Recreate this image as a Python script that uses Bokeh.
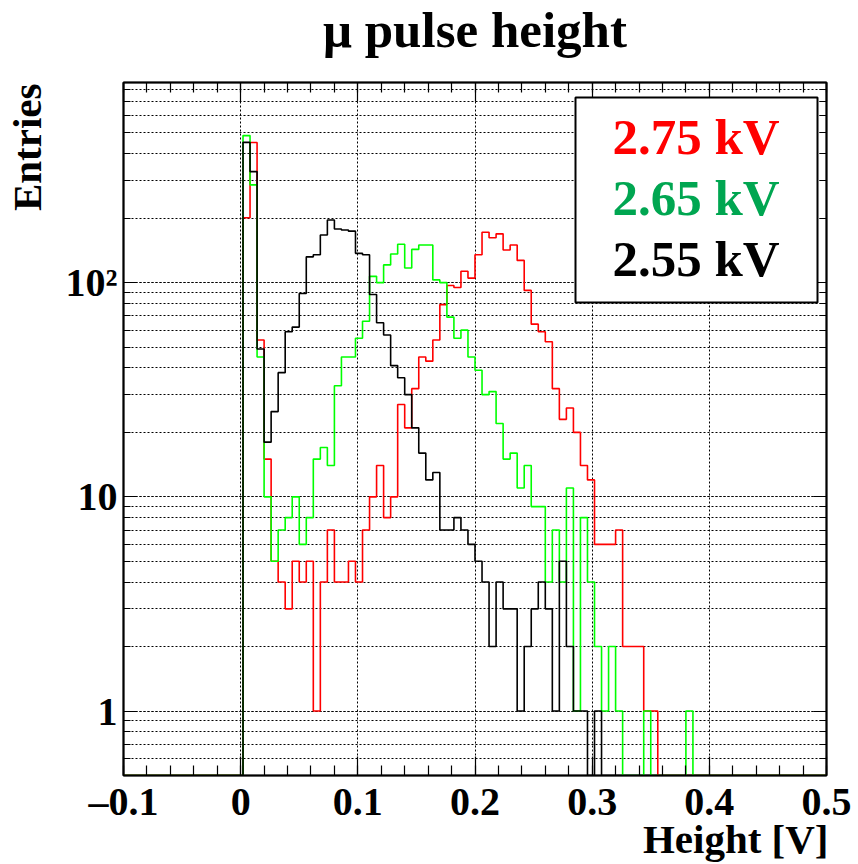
import numpy as np
from bokeh.plotting import figure
from bokeh.models import (FixedTicker, LinearAxis, LogAxis, CustomJSTickFormatter,
                          Label, BoxAnnotation, Title)
from bokeh.embed import file_html
from bokeh.resources import INLINE

# ---------------- data ----------------
X_MIN, X_MAX, N_BINS = -0.1, 0.5, 100
FIRST_BIN = 17  # index of first listed bin

red_275 = [201, 451, 54, 15, 5, 4, 3, 5, 4, 5,
           1, 4, 7, 4, 4, 5, 4, 7, 10, 14,
           8, 10, 27, 21, 32, 45, 43, 54, 79, 97,
           95, 113, 105, 135, 172, 162, 169, 142, 150, 127,
           92, 64, 59, 53, 32, 23, 26, 20, 14, 12,
           6, 6, 6, 7, 2, 2, 2, 1, 1, 0,
           0, 0, 0, 0]
green_265 = [486, 286, 45, 10, 5, 7, 8, 10, 6, 8,
             15, 17, 14, 33, 45, 45, 55, 66, 107, 100,
             121, 136, 151, 117, 143, 150, 150, 103, 100, 69,
             55, 60, 45, 39, 30, 31, 22, 15, 16, 11,
             14, 9, 9, 4, 7, 4, 11, 1, 8, 4,
             2, 1, 2, 1, 0, 0, 0, 1, 0, 0,
             0, 0, 0, 1]
black_255 = [452, 330, 49, 18, 25, 38, 59, 62, 89, 132,
             135, 167, 196, 178, 176, 174, 137, 135, 88, 65,
             57, 41, 36, 30, 21, 16, 12, 13, 7, 7,
             8, 7, 6, 5, 4, 2, 4, 3, 3, 1,
             2, 3, 4, 3, 1, 5, 2, 1, 1, 0,
             1, 0, 0, 0, 0, 0, 0, 0, 0, 0,
             0, 0, 0, 0]

series_labels = ["2.75 kV", "2.65 kV", "2.55 kV"]
series_colors = ["#ff0000", "#00ff00", "#000000"]
legend_text_colors = ["#ff0000", "#00a651", "#000000"]

x_ticks = [-0.1, 0.0, 0.1, 0.2, 0.3, 0.4, 0.5]
x_tick_labels = ["\u20130.1", "0", "0.1", "0.2", "0.3", "0.4", "0.5"]
y_ticks = [1, 10, 100]
y_tick_labels = ["1", "10", "10\u00b2"]
Y_MIN, Y_MAX = 0.5, 860

TITLE = "\u03bc pulse height"
X_TITLE = "Height [V]"
Y_TITLE = "Entries"

FONT = "Liberation Serif"

# ---------------- figure ----------------
p = figure(width=858, height=864, x_range=(X_MIN, X_MAX), y_range=(Y_MIN, Y_MAX),
           y_axis_type="log", output_backend="svg", toolbar_location=None,
           title=None,
           min_border_left=123, min_border_right=32, min_border_top=81,
           min_border_bottom=89, background_fill_color="white",
           border_fill_color="white")
p.outline_line_color = "black"
p.outline_line_width = 2

x_minor = [round(X_MIN + 0.02 * i, 4) for i in range(31)]
y_minor = [m * 10.0 ** e for e in range(-1, 3) for m in range(1, 10)
           if Y_MIN <= m * 10.0 ** e <= Y_MAX]
xticker = FixedTicker(ticks=x_ticks, minor_ticks=x_minor)
yticker = FixedTicker(ticks=y_ticks, minor_ticks=y_minor)

xfmt = CustomJSTickFormatter(args=dict(t=x_ticks, l=x_tick_labels), code="""
    for (let i = 0; i < t.length; i++) { if (Math.abs(tick - t[i]) < 1e-9) return l[i]; }
    return '';
""")
yfmt = CustomJSTickFormatter(args=dict(t=y_ticks, l=y_tick_labels), code="""
    for (let i = 0; i < t.length; i++) { if (Math.abs(tick - t[i]) < 1e-6 * t[i]) return l[i]; }
    return '';
""")
blank = CustomJSTickFormatter(code="return '';")


def style_axis(ax, major_in, minor_in, size):
    ax.major_tick_in = major_in
    ax.major_tick_out = 0
    ax.minor_tick_in = minor_in
    ax.minor_tick_out = 0
    ax.axis_line_color = "black"
    ax.axis_line_width = 1.5
    ax.major_tick_line_width = 1.2
    ax.minor_tick_line_width = 1.2
    ax.major_label_text_font = FONT
    ax.major_label_text_font_style = "bold"
    ax.major_label_text_font_size = size
    ax.major_label_text_color = "black"
    ax.axis_label_text_font = FONT


xa = p.xaxis[0]
xa.ticker = xticker
xa.formatter = xfmt
style_axis(xa, 19, 10, "40px")
xa.major_label_standoff = 3

ya = p.yaxis[0]
ya.ticker = yticker
ya.formatter = yfmt
style_axis(ya, 13, 7, "40px")
ya.major_label_standoff = 6
# invisible spacer between tick labels and the "Entries" title
ya.axis_label = " "
ya.axis_label_standoff = 0
ya.axis_label_text_font_size = "9px"

top_ax = LinearAxis(ticker=xticker, formatter=blank)
style_axis(top_ax, 19, 10, "0px")
top_ax.major_label_standoff = 0
top_ax.axis_label = " "
top_ax.axis_label_standoff = 7
top_ax.axis_label_text_font_size = "15px"
p.add_layout(top_ax, "above")

right_ax = LogAxis(ticker=yticker, formatter=blank)
style_axis(right_ax, 13, 7, "0px")
right_ax.major_label_standoff = 0
p.add_layout(right_ax, "right")

for g in (p.xgrid, p.ygrid):
    g.grid_line_color = "black"
    g.grid_line_dash = "2 2"
    g.grid_line_width = 1
p.ygrid.minor_grid_line_color = "black"
p.ygrid.minor_grid_line_dash = "2 2"
p.ygrid.minor_grid_line_width = 1

# ---------------- histograms ----------------
edges = np.linspace(X_MIN, X_MAX, N_BINS + 1)
for vals, col in zip([red_275, green_265, black_255], series_colors):
    full = np.zeros(N_BINS)
    full[FIRST_BIN:FIRST_BIN + len(vals)] = vals
    yplot = np.maximum(full, Y_MIN)
    ystep = np.append(yplot, yplot[-1])
    p.step(edges, ystep, mode="after", line_color=col, line_width=1.6)

# ---------------- titles (side panels) ----------------
p.add_layout(Title(text=TITLE, align="center", vertical_align="bottom", standoff=-2,
                   text_font=FONT, text_font_style="bold", text_font_size="51px",
                   text_color="black"), "above")
p.add_layout(Title(text=X_TITLE, align="right", vertical_align="top", standoff=-21,
                   offset=-2, text_font=FONT, text_font_style="bold",
                   text_font_size="41px", text_color="black"), "below")
p.add_layout(Title(text=Y_TITLE, align="right", vertical_align="bottom", standoff=0,
                   offset=1, text_font=FONT, text_font_style="bold",
                   text_font_size="41px", text_color="black"), "left")

# ---------------- legend ----------------
p.add_layout(BoxAnnotation(left=452, right=694, top=678, bottom=473,
                           left_units="screen", right_units="screen",
                           top_units="screen", bottom_units="screen",
                           fill_color="white", fill_alpha=1.0,
                           line_color="black", line_alpha=1.0, line_width=2,
                           level="annotation"))
for i, (lab, col) in enumerate(zip(series_labels, legend_text_colors)):
    p.add_layout(Label(x=489, y=639 - 61 * i, x_units="screen", y_units="screen",
                       text=lab, text_font=FONT, text_font_style="bold",
                       text_font_size="51px", text_align="left",
                       text_baseline="alphabetic", text_color=col))

open("out.html", "w").write(file_html(p, INLINE))
